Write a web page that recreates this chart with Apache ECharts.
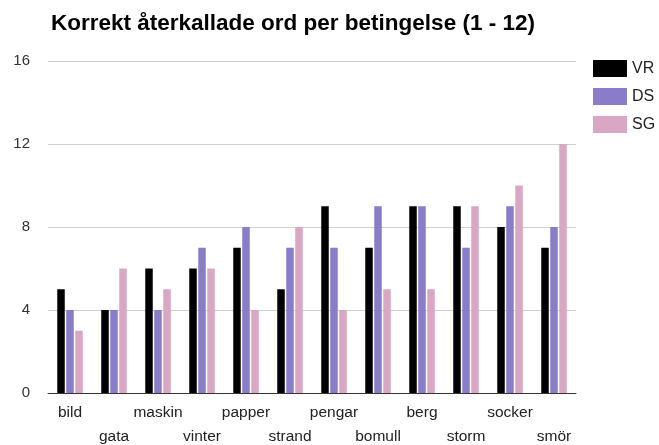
<!DOCTYPE html>
<html>
<head>
<meta charset="utf-8">
<script src="https://cdn.jsdelivr.net/npm/echarts@6/dist/echarts.min.js"></script>
<style>
  html, body { margin: 0; padding: 0; background: #fff; }
  #chart { width: 659px; height: 445px; }
</style>
</head>
<body>
<div id="chart"></div>
<script>
const words = ["bild", "gata", "maskin", "vinter", "papper", "strand",
  "pengar", "bomull", "berg", "storm", "socker", "smör"];
const vrValues = [5, 4, 6, 6, 7, 5, 9, 7, 9, 9, 8, 7];
const dsValues = [4, 4, 4, 7, 8, 7, 7, 9, 9, 7, 9, 8];
const sgValues = [3, 6, 5, 6, 4, 8, 4, 5, 5, 9, 10, 12];
const yTicks = [0, 4, 8, 12, 16];

const chart = echarts.init(document.getElementById("chart"));

const font = "'Liberation Sans', Arial, sans-serif";

const option = {
  animation: false,
  title: {
    text: "Korrekt återkallade ord per betingelse (1 - 12)",
    left: 46,
    top: 7,
    textStyle: { fontFamily: font, fontSize: 22.5, fontWeight: "bold", color: "#000" },
  },
  legend: {
    orient: "vertical",
    left: 588,
    top: 55,
    itemWidth: 34,
    itemHeight: 17,
    itemGap: 11,
    icon: "rect",
    textStyle: { fontFamily: font, fontSize: 16, color: "#222" },
    data: ["VR", "DS", "SG"],
  },
  grid: { left: 48, right: 83, top: 61, bottom: 52, outerBoundsMode: "none" },
  xAxis: {
    type: "category",
    data: words,
    axisTick: { show: false },
    axisLine: { lineStyle: { color: "#333", width: 1 } },
    axisLabel: {
      interval: 0,
      fontFamily: font,
      fontSize: 15.5,
      color: "#222",
      margin: 8,
      lineHeight: 24,
      formatter: (v, i) => (i % 2 ? "\n" + v : v),
    },
  },
  yAxis: {
    type: "value",
    min: yTicks[0],
    max: yTicks[yTicks.length - 1],
    interval: 4,
    axisLine: { show: false },
    axisTick: { show: false },
    splitLine: { lineStyle: { color: "#d0d0d0" } },
    axisLabel: { fontFamily: font, fontSize: 15, color: "#333", margin: 18 },
  },
  series: [
    { name: "VR", type: "bar", data: vrValues, barWidth: 7.5, barGap: "20%",
      itemStyle: { color: "#000000" } },
    { name: "DS", type: "bar", data: dsValues, barWidth: 7.5, barGap: "20%",
      itemStyle: { color: "#8a7cc8" } },
    { name: "SG", type: "bar", data: sgValues, barWidth: 7.5, barGap: "20%",
      itemStyle: { color: "#d9a6c4" } },
  ],
};

chart.setOption(option);
</script>
</body>
</html>
